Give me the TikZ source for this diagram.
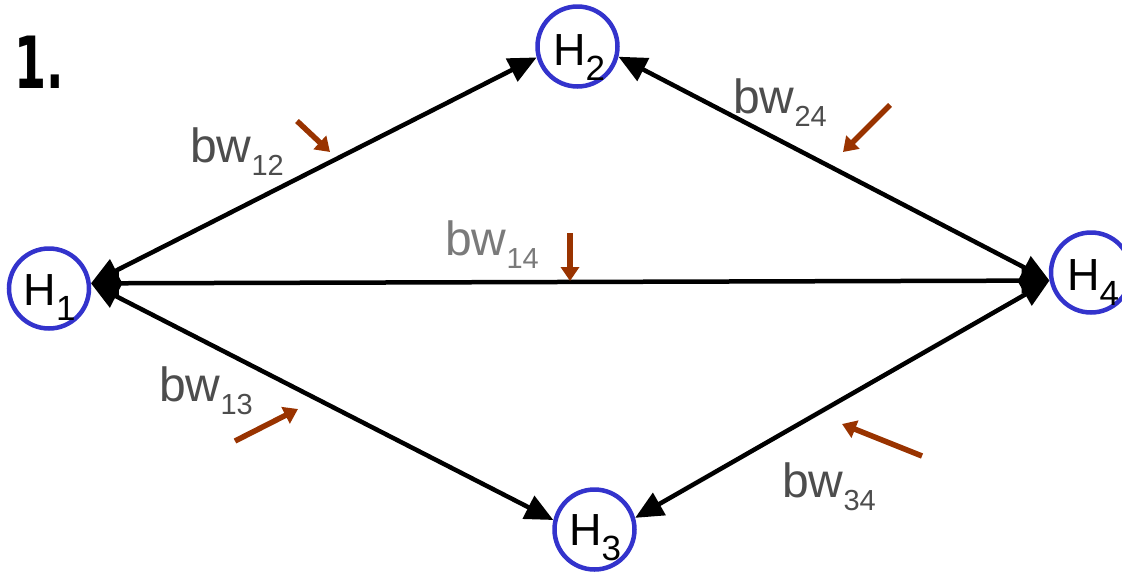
\documentclass[tikz,border=0pt]{standalone}
\usepackage{fontspec}
\setmainfont{Liberation Sans}
\newfontfamily\numfont{DejaVu Sans}
\usetikzlibrary{arrows.meta}
\definecolor{hubblue}{HTML}{3333CC}
\definecolor{rust}{HTML}{993300}
\definecolor{lblgray}{HTML}{4D4D4D}
\definecolor{lblgraylight}{HTML}{7A7A7A}

% subscripts for host names and bandwidth labels
\newcommand\hsub[1]{\raisebox{-15pt}{\fontsize{35}{35}\selectfont #1}}
\newcommand\bsub[1]{\raisebox{-13pt}{\fontsize{29}{29}\selectfont #1}}

\begin{document}
\begin{tikzpicture}[x=1pt,y=-1pt,
  hub/.style={circle,draw=hubblue,line width=4.5pt,minimum size=80pt,inner sep=0pt},
  hubtext/.style={anchor=base,inner sep=0pt,font=\fontsize{45}{45}\selectfont},
  link/.style={line width=4.5pt,{Triangle[length=28pt,width=25pt]}-{Triangle[length=28pt,width=25pt]}},
  bwlabel/.style={anchor=base west,inner sep=0pt,text=lblgray,font=\fontsize{48}{48}\selectfont},
  load/.style={draw=rust,line width=5.5pt,-{Triangle[length=14pt,width=18pt]}}]

\useasboundingbox (0,0) rectangle (1122,571);

% step number
\node[anchor=base west,inner sep=0pt,xscale=0.64,font=\numfont\bfseries\fontsize{72}{72}\selectfont] (num) at (14,88) {1.};

% hosts
\node[hub] (h1) at (49,288.5) {};
\node[hub] (h2) at (577.5,46.5) {};
\node[hub] (h3) at (594.5,529.5) {};
\node[hub] (h4) at (1091,272.5) {};
\node[hubtext] (t1) at (49.5,305) {H\hsub{1}};
\node[hubtext] (t2) at (579,65) {H\hsub{2}};
\node[hubtext] (t3) at (595,545) {H\hsub{3}};
\node[hubtext] (t4) at (1093,290) {H\hsub{4}};

% links between hosts
\draw[link] (h1.7) -- (h2.195);
\draw[link] (h1.7) -- (h4.191);
\draw[link] (h1.7) -- (h3.167);
\draw[link] (h2.346) -- (h4.191);
\draw[link] (h3.16) -- (h4.191);

% bandwidth labels
\node[bwlabel] (bw12) at (190,162) {bw\bsub{12}};
\node[bwlabel] (bw24) at (733,113) {bw\bsub{24}};
\node[bwlabel,text=lblgraylight] (bw14) at (445,255) {bw\bsub{14}};
\node[bwlabel] (bw13) at (159,401) {bw\bsub{13}};
\node[bwlabel] (bw34) at (782,497) {bw\bsub{34}};

% pointers from labels to links
\coordinate (p12a) at (297,121);  \coordinate (p12b) at (330,152);
\coordinate (p24a) at (890,105);  \coordinate (p24b) at (843,152);
\coordinate (p14a) at (570,233);  \coordinate (p14b) at (570,281);
\coordinate (p13a) at (235,441);  \coordinate (p13b) at (298,409);
\coordinate (p34a) at (922,456);  \coordinate (p34b) at (842,424);
\draw[load] (p12a) -- (p12b);
\draw[load] (p24a) -- (p24b);
\draw[load] (p14a) -- (p14b);
\draw[load] (p13a) -- (p13b);
\draw[load] (p34a) -- (p34b);
\end{tikzpicture}
\end{document}
